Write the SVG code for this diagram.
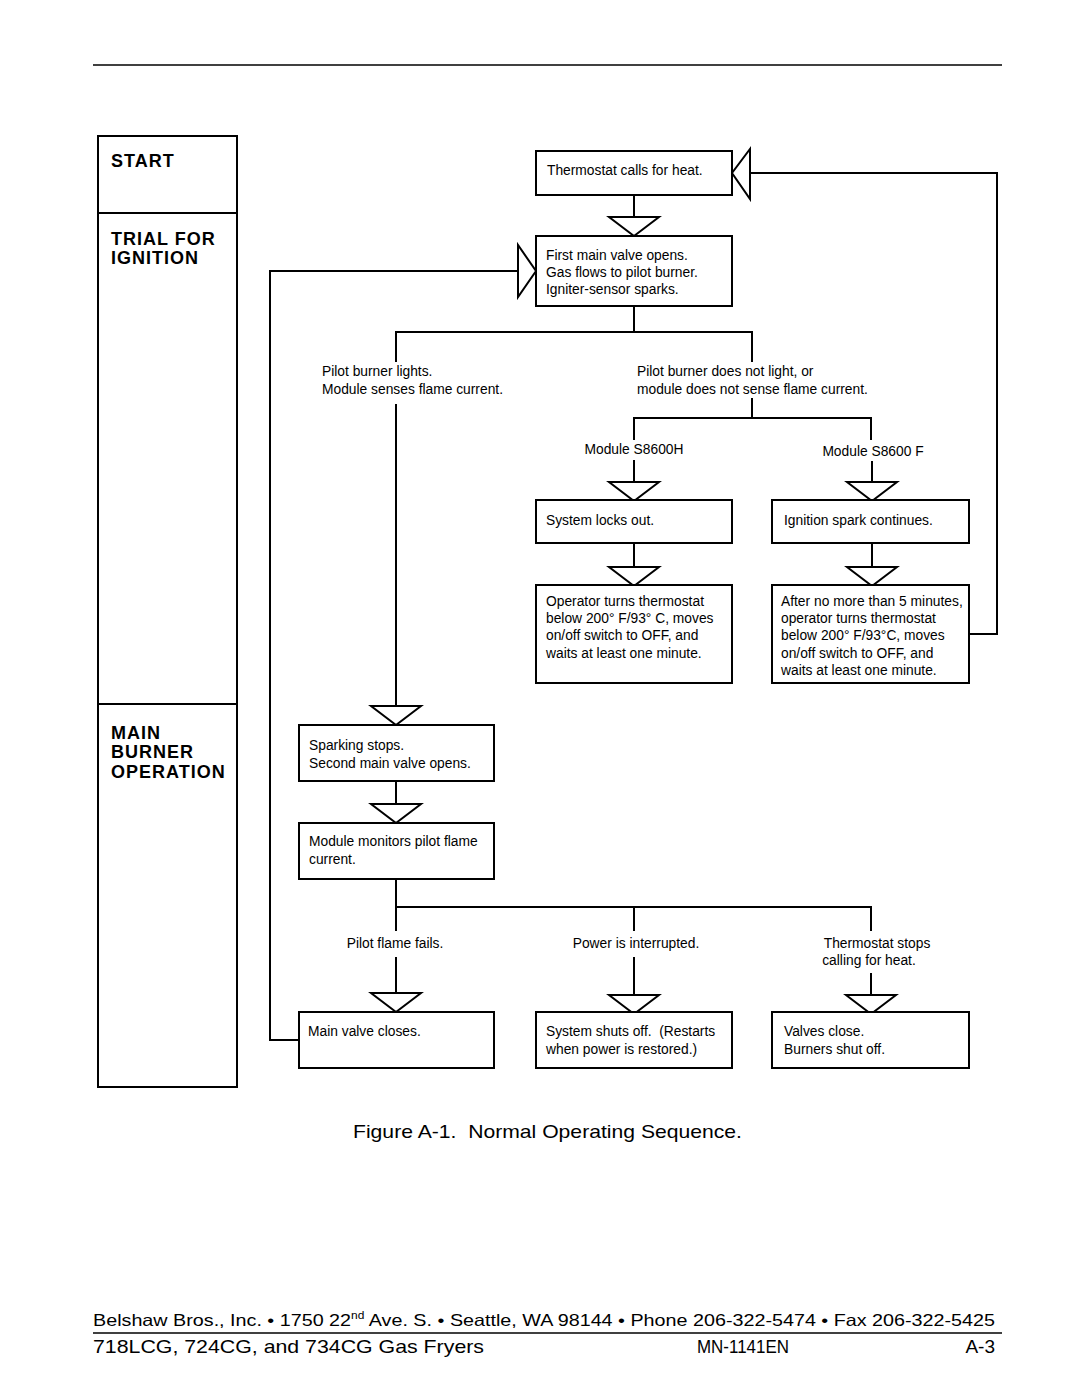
<svg xmlns="http://www.w3.org/2000/svg" width="1080" height="1397" viewBox="0 0 1080 1397">
<style>
.b{fill:#fff;stroke:#000;stroke-width:2}
.l{fill:none;stroke:#000;stroke-width:2}
.t{font-family:"Liberation Sans",Arial,sans-serif;font-size:13.8px;fill:#000}
.h{font-family:"Liberation Sans",Arial,sans-serif;font-size:18px;font-weight:bold;letter-spacing:1px;fill:#000}
.f{font-family:"Liberation Sans",Arial,sans-serif;fill:#000}
</style>
<defs>
<polygon id="dn" class="b" points="-25,0 25,0 0,19"/>
</defs>
<rect width="1080" height="1397" fill="#fff"/>
<line x1="93" y1="65" x2="1002" y2="65" stroke="#000" stroke-width="1.5"/>

<g id="sidebar">
<rect class="b" x="98" y="136" width="139" height="951"/>
<line class="l" x1="98" y1="213" x2="237" y2="213"/>
<line class="l" x1="98" y1="704" x2="237" y2="704"/>
<text class="h" x="111" y="167">START</text>
<text class="h" x="111" y="245">TRIAL FOR</text>
<text class="h" x="111" y="264">IGNITION</text>
<text class="h" x="111" y="739">MAIN</text>
<text class="h" x="111" y="758">BURNER</text>
<text class="h" x="111" y="778">OPERATION</text>
</g>

<g id="connectors">
<polyline class="l" points="969,634 997,634 997,173 750,173"/>
<polygon class="b" points="750,149 750,199 732,173"/>
<line class="l" x1="634" y1="195" x2="634" y2="217"/>
<use href="#dn" x="634" y="217"/>
<polyline class="l" points="299,1040 270,1040 270,271 518,271"/>
<polygon class="b" points="518,245 518,297 536,271"/>
<polyline class="l" points="634,306 634,332"/>
<polyline class="l" points="396,362 396,332 752,332 752,362"/>
<line class="l" x1="396" y1="404" x2="396" y2="706"/>
<use href="#dn" x="396" y="706"/>
<polyline class="l" points="752,398 752,418"/>
<polyline class="l" points="634,440 634,418 871,418 871,440"/>
<line class="l" x1="634" y1="460" x2="634" y2="482"/>
<use href="#dn" x="634" y="482"/>
<line class="l" x1="872" y1="461" x2="872" y2="482"/>
<use href="#dn" x="872" y="482"/>
<line class="l" x1="634" y1="543" x2="634" y2="567"/>
<use href="#dn" x="634" y="567"/>
<line class="l" x1="872" y1="543" x2="872" y2="567"/>
<use href="#dn" x="872" y="567"/>
<line class="l" x1="396" y1="781" x2="396" y2="804"/>
<use href="#dn" x="396" y="804"/>
<polyline class="l" points="396,879 396,907"/>
<polyline class="l" points="396,931 396,907 871,907 871,931"/>
<line class="l" x1="634" y1="907" x2="634" y2="931"/>
<line class="l" x1="396" y1="957" x2="396" y2="993"/>
<use href="#dn" x="396" y="993"/>
<line class="l" x1="634" y1="957" x2="634" y2="995"/>
<use href="#dn" x="634" y="995"/>
<line class="l" x1="871" y1="973" x2="871" y2="995"/>
<use href="#dn" x="871" y="995"/>
</g>

<g id="n-thermostat">
<rect class="b" x="536" y="151" width="196" height="44"/>
<text class="t" x="547" y="175">Thermostat calls for heat.</text>
</g>
<g id="n-first-valve">
<rect class="b" x="536" y="236" width="196" height="70"/>
<text class="t" x="546" y="260">First main valve opens.</text>
<text class="t" x="546" y="277">Gas flows to pilot burner.</text>
<text class="t" x="546" y="294">Igniter-sensor sparks.</text>
</g>
<g id="l-pilot-lights">
<text class="t" x="322" y="376">Pilot burner lights.</text>
<text class="t" x="322" y="394">Module senses flame current.</text>
</g>
<g id="l-pilot-not">
<text class="t" x="637" y="376">Pilot burner does not light, or</text>
<text class="t" x="637" y="394">module does not sense flame current.</text>
</g>
<g id="l-s8600h"><text class="t" x="634" y="454" text-anchor="middle">Module S8600H</text></g>
<g id="l-s8600f"><text class="t" x="873" y="456" text-anchor="middle">Module S8600 F</text></g>
<g id="n-locks-out">
<rect class="b" x="536" y="500" width="196" height="43"/>
<text class="t" x="546" y="525">System locks out.</text>
</g>
<g id="n-spark-continues">
<rect class="b" x="772" y="500" width="197" height="43"/>
<text class="t" x="784" y="525">Ignition spark continues.</text>
</g>
<g id="n-operator-turns">
<rect class="b" x="536" y="585" width="196" height="98"/>
<text class="t" x="546" y="606">Operator turns thermostat</text>
<text class="t" x="546" y="623">below 200° F/93° C, moves</text>
<text class="t" x="546" y="640">on/off switch to OFF, and</text>
<text class="t" x="546" y="658">waits at least one minute.</text>
</g>
<g id="n-after-5">
<rect class="b" x="772" y="585" width="197" height="98"/>
<text class="t" x="781" y="606">After no more than 5 minutes,</text>
<text class="t" x="781" y="623">operator turns thermostat</text>
<text class="t" x="781" y="640">below 200° F/93°C, moves</text>
<text class="t" x="781" y="658">on/off switch to OFF, and</text>
<text class="t" x="781" y="675">waits at least one minute.</text>
</g>
<g id="n-sparking-stops">
<rect class="b" x="299" y="725" width="195" height="56"/>
<text class="t" x="309" y="750">Sparking stops.</text>
<text class="t" x="309" y="768">Second main valve opens.</text>
</g>
<g id="n-monitors">
<rect class="b" x="299" y="823" width="195" height="56"/>
<text class="t" x="309" y="846">Module monitors pilot flame</text>
<text class="t" x="309" y="864">current.</text>
</g>
<g id="l-pilot-fails"><text class="t" x="395" y="948" text-anchor="middle">Pilot flame fails.</text></g>
<g id="l-power"><text class="t" x="636" y="948" text-anchor="middle">Power is interrupted.</text></g>
<g id="l-thermo-stops">
<text class="t" x="877" y="948" text-anchor="middle">Thermostat stops</text>
<text class="t" x="869" y="965" text-anchor="middle">calling for heat.</text>
</g>
<g id="n-main-closes">
<rect class="b" x="299" y="1012" width="195" height="56"/>
<text class="t" x="308" y="1036">Main valve closes.</text>
</g>
<g id="n-shuts-off">
<rect class="b" x="536" y="1012" width="196" height="56"/>
<text class="t" x="546" y="1036" xml:space="preserve">System shuts off.  (Restarts</text>
<text class="t" x="546" y="1054">when power is restored.)</text>
</g>
<g id="n-valves-close">
<rect class="b" x="772" y="1012" width="197" height="56"/>
<text class="t" x="784" y="1036">Valves close.</text>
<text class="t" x="784" y="1054">Burners shut off.</text>
</g>

<text class="f" x="353" y="1138" font-size="19" textLength="389" lengthAdjust="spacingAndGlyphs" xml:space="preserve">Figure A-1.  Normal Operating Sequence.</text>

<text class="f" x="93" y="1326" font-size="16.5" textLength="902" lengthAdjust="spacingAndGlyphs">Belshaw Bros., Inc. • 1750 22<tspan font-size="10" dy="-7">nd</tspan><tspan dy="7"> Ave. S. • Seattle, WA 98144 • Phone 206-322-5474 • Fax 206-322-5425</tspan></text>
<line x1="93" y1="1333" x2="1002" y2="1333" stroke="#000" stroke-width="1.5"/>
<text class="f" x="93" y="1353" font-size="19" textLength="391" lengthAdjust="spacingAndGlyphs">718LCG, 724CG, and 734CG Gas Fryers</text>
<text class="f" x="697" y="1353" font-size="19" textLength="92" lengthAdjust="spacingAndGlyphs">MN-1141EN</text>
<text class="f" x="995" y="1353" font-size="19" text-anchor="end">A-3</text>
</svg>
